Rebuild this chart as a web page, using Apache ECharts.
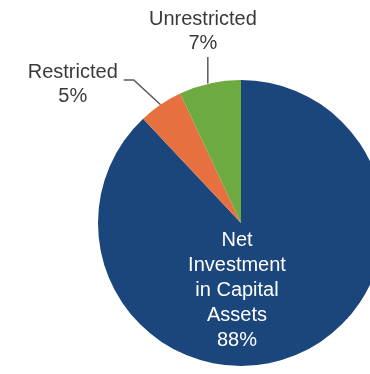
<!DOCTYPE html>
<html>
<head>
<meta charset="utf-8">
<style>
  html, body { margin: 0; padding: 0; background: #ffffff; }
  #chart { width: 370px; height: 374px; }
</style>
<script src="https://cdn.jsdelivr.net/npm/echarts@6/dist/echarts.min.js"></script>
</head>
<body>
<div id="chart"></div>
<script>
// Net position breakdown (percent of total)
const categories = ['Net\nInvestment\nin Capital\nAssets', 'Restricted', 'Unrestricted'];
const values = [88, 5, 7];
const colors = ['#1a467c', '#e6703f', '#6dab40'];

const CENTER = [241, 223];
const RADIUS = 143;
const FONT = '"Liberation Sans", Arial, sans-serif';

const chart = echarts.init(document.getElementById('chart'), null, { renderer: 'canvas' });

const data = categories.map((name, i) => {
  const item = { name: name, value: values[i], itemStyle: { color: colors[i] } };
  if (i === 0) {
    item.label = { position: 'inside', color: '#ffffff', lineHeight: 25 };
  } else if (i === 1) {
    item.labelLine = { length: 30, length2: 20 };
  } else {
    item.labelLine = { length: 27, length2: 0 };
  }
  return item;
});

chart.setOption({
  animation: false,
  series: [{
    type: 'pie',
    center: CENTER,
    radius: RADIUS,
    startAngle: 90,
    clockwise: true,
    avoidLabelOverlap: false,
    emphasis: { disabled: true },
    itemStyle: { borderWidth: 0 },
    label: {
      show: true,
      position: 'outside',
      formatter: '{b}\n{c}%',
      fontFamily: FONT,
      fontSize: 20,
      lineHeight: 24,
      color: '#3a3a3a',
      align: 'center',
      distanceToLabelLine: 6
    },
    labelLine: {
      show: true,
      smooth: false,
      lineStyle: { color: '#595959', width: 1.5 }
    },
    labelLayout: function (p) {
      const r = p.labelRect;
      const pts = p.labelLinePoints;
      if (p.dataIndex === 0) {
        // big slice: text block centred under the pie's vertical axis
        return { x: CENTER[0] - 4, y: r.y + r.height / 2 - 2, align: 'center', verticalAlign: 'middle' };
      }
      if (p.dataIndex === 1) {
        // short horizontal tail, then a slanted run down to the slice
        const end = pts[2];
        return {
          x: r.x + r.width / 2,
          y: r.y + r.height / 2 + 5,
          align: 'center',
          verticalAlign: 'middle',
          labelLinePoints: [pts[0], [end[0] + 10, end[1]], end]
        };
      }
      // straight vertical leader with the text stacked above it
      const p0 = pts[0];
      const p1 = pts[1];
      return {
        x: p1[0] - 1,
        y: p1[1] - 2,
        align: 'center',
        verticalAlign: 'bottom',
        labelLinePoints: [[p0[0] - 2, p0[1]], [p0[0] - 2, p1[1]]]
      };
    },
    data: data
  }]
});
</script>
</body>
</html>
